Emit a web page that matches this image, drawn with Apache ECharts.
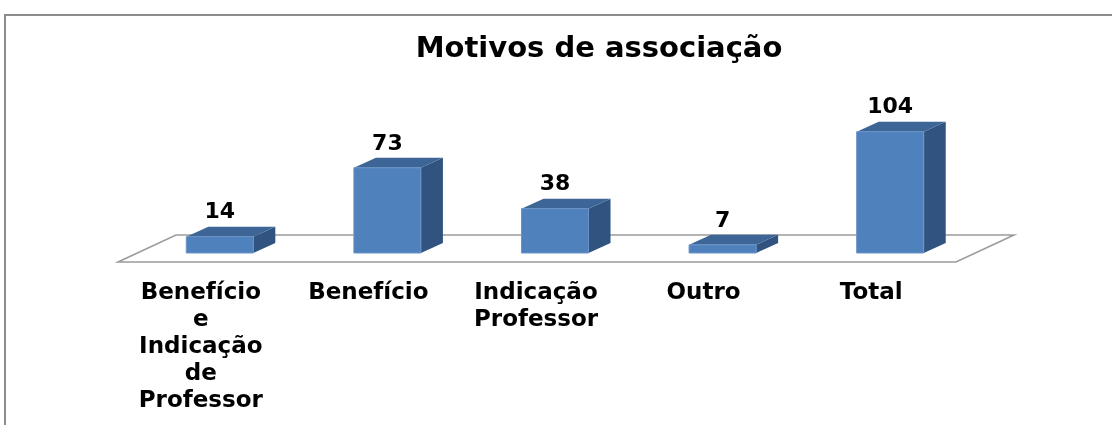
<!DOCTYPE html>
<html>
<head>
<meta charset="utf-8">
<script src="https://cdn.jsdelivr.net/npm/echarts@6/dist/echarts.min.js"></script>
<style>html,body{margin:0;padding:0;background:#fff;}#c{width:1112px;height:425px;}</style>
</head>
<body>
<div id="c"></div>
<script>
const title = 'Motivos de associação';
const categories = ['Benefício\ne\nIndicação\nde\nProfessor', 'Benefício', 'Indicação\nProfessor', 'Outro', 'Total'];
const values = [14, 73, 38, 7, 104];

const FONT = 'DejaVu Sans';
const DX = 22, DY = -10;
const chart = echarts.init(document.getElementById('c'));

function renderFloor(params, api) {
  const cs = params.coordSys;
  const L = cs.x, R = cs.x + cs.width, B = cs.y + cs.height;
  return {
    type: 'polygon',
    shape: { points: [[L - 18, B + 9], [R - 18, B + 9], [R + 40, B - 18], [L + 40, B - 18]] },
    style: { fill: '#ffffff', stroke: '#9c9c9c', lineWidth: 1.6 }
  };
}

function renderBar(params, api) {
  const idx = api.value(0), val = api.value(1);
  const s = api.coord([idx, 0]);
  const e = api.coord([idx, val]);
  const w = api.size([1, 0])[0] * 0.4;
  const x = s[0] - w / 2, yT = e[1], yB = s[1];
  return {
    type: 'group',
    children: [
      { type: 'polygon', shape: { points: [[x + w, yT], [x + w + DX, yT + DY], [x + w + DX, yB + DY], [x + w, yB]] },
        style: { fill: '#31537f' } },
      { type: 'polygon', shape: { points: [[x, yT], [x + w, yT], [x + w + DX, yT + DY], [x + DX, yT + DY]] },
        style: { fill: '#3d6696' } },
      { type: 'rect', shape: { x: x, y: yT, width: w, height: yB - yT },
        style: { fill: '#4f81bd', stroke: '#6b94c8', lineWidth: 1 } },
      { type: 'text', x: s[0], y: yT + DY - 3,
        style: { text: String(val), fontFamily: FONT, fontWeight: 'bold', fontSize: 22, fill: '#000',
                 align: 'center', verticalAlign: 'bottom' } }
    ]
  };
}

chart.setOption({
  animation: false,
  backgroundColor: '#fff',
  title: {
    text: title, left: 594, top: 30, textAlign: 'center',
    textStyle: { fontFamily: FONT, fontWeight: 'bold', fontSize: 29, color: '#000' }
  },
  graphic: [{
    type: 'rect', shape: { x: 5, y: 15, width: 1300, height: 600 },
    style: { fill: 'none', stroke: '#8c8c8c', lineWidth: 2 }, z: 100
  }],
  grid: [
    { left: 136, right: 138, top: 113, bottom: 172 },
    { left: 117, right: 157, top: 113, bottom: 163 }
  ],
  xAxis: [
    { type: 'category', gridIndex: 0, data: categories, axisLine: { show: false }, axisTick: { show: false }, axisLabel: { show: false }, splitLine: { show: false } },
    { type: 'category', gridIndex: 1, data: categories, axisLine: { show: false }, axisTick: { show: false }, splitLine: { show: false },
      axisLabel: { interval: 0, margin: 18, fontFamily: FONT, fontWeight: 'bold', fontSize: 23, lineHeight: 27, color: '#000', align: 'center' } }
  ],
  yAxis: [
    { type: 'value', gridIndex: 0, min: 0, max: 120, show: false },
    { type: 'value', gridIndex: 1, min: 0, max: 120, show: false }
  ],
  series: [
    { type: 'custom', xAxisIndex: 0, yAxisIndex: 0, z: 1, renderItem: renderFloor, data: [[0, 0]], silent: true },
    { type: 'custom', xAxisIndex: 0, yAxisIndex: 0, z: 2, renderItem: renderBar, data: values.map((v, i) => [i, v]) }
  ]
});
</script>
</body>
</html>
